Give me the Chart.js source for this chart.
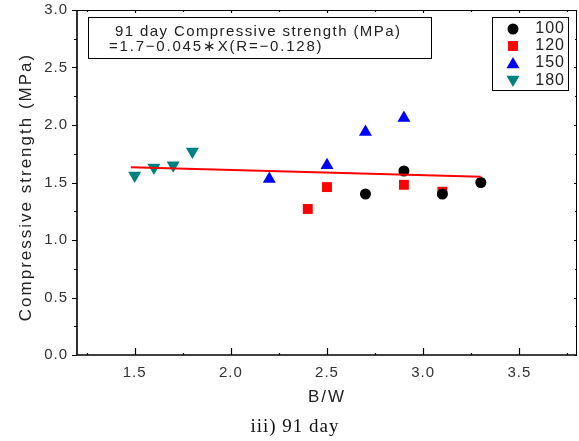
<!DOCTYPE html>
<html>
<head>
<meta charset="utf-8">
<script src="https://cdn.jsdelivr.net/npm/chart.js@4.4.1/dist/chart.umd.min.js"></script>
<style>
html,body{margin:0;padding:0;background:#fff;}
#c{display:block;}
</style>
</head>
<body>
<canvas id="c" width="579" height="441"></canvas>
<script>
// ---- data ----
const seriesLabels = ['100', '120', '150', '180'];
const x100 = [2.7, 2.9, 3.1, 3.3];
const y100 = [1.40, 1.60, 1.40, 1.50];
const x120 = [2.4, 2.5, 2.9, 3.1];
const y120 = [1.27, 1.46, 1.48, 1.42];
const x150 = [2.2, 2.5, 2.7, 2.9];
const y150 = [1.53, 1.65, 1.94, 2.06];
const x180 = [1.5, 1.6, 1.7, 1.8];
const y180 = [1.56, 1.63, 1.65, 1.77];
const fitX = [1.48, 3.3];
const fitY = [1.633, 1.551];
const xTicks = [1.5, 2.0, 2.5, 3.0, 3.5];
const yTicks = [0.0, 0.5, 1.0, 1.5, 2.0, 2.5, 3.0];
const xTitle = 'B/W';
const yTitle = 'Compressive strength (MPa)';
const noteLine1 = '91 day Compressive strength (MPa)';
const noteLine2 = '=1.7\u22120.045\u2217X(R=\u22120.128)';
const caption = 'iii) 91 day';

const pts = (xs, ys) => xs.map((x, i) => ({x: x, y: ys[i]}));

const styles = [
  {style: 'circle', color: '#000000', r: 5.5, rot: 0},
  {style: 'rect', color: '#ff0000', r: 7, rot: 0},
  {style: 'triangle', color: '#0000ff', r: 7.5, rot: 0},
  {style: 'triangle', color: '#008080', r: 7.5, rot: 180}
];
const seriesData = [pts(x100, y100), pts(x120, y120), pts(x150, y150), pts(x180, y180)];

const datasets = seriesData.map((d, i) => ({
  label: seriesLabels[i],
  data: d,
  showLine: false,
  pointStyle: styles[i].style,
  pointRadius: styles[i].r,
  pointHoverRadius: styles[i].r,
  pointRotation: styles[i].rot,
  pointBackgroundColor: styles[i].color,
  pointBorderColor: styles[i].color,
  pointBorderWidth: 0,
  order: 1
}));
datasets.push({
  label: 'fit',
  data: pts(fitX, fitY),
  showLine: true,
  borderColor: '#ff0000',
  borderWidth: 2,
  pointRadius: 0,
  fill: false,
  order: 0
});

const TICKFONT = {family: 'Liberation Sans, Arial, sans-serif', size: 15};

const zeroPad = s => { s.paddingTop = 0; s.paddingBottom = 0; s.paddingLeft = 0; s.paddingRight = 0; };

const decor = {
  id: 'decor',
  beforeDraw(chart) {
    chart.ctx.letterSpacing = '1px';
  },
  afterDraw(chart) {
    const ctx = chart.ctx;
    const xs = chart.scales.x, ys = chart.scales.y;
    const a = chart.chartArea;
    ctx.save();
    ctx.letterSpacing = '0px';
    ctx.strokeStyle = '#000';
    // frame
    ctx.lineWidth = 1;
    ctx.beginPath();
    ctx.moveTo(a.left, a.top + 0.5); ctx.lineTo(a.right, a.top + 0.5);
    ctx.moveTo(a.right - 0.5, a.top); ctx.lineTo(a.right - 0.5, a.bottom);
    ctx.stroke();
    ctx.lineWidth = 1.6;
    ctx.beginPath();
    ctx.moveTo(a.left, a.top); ctx.lineTo(a.left, a.bottom);
    ctx.lineTo(a.right, a.bottom);
    ctx.stroke();
    // ticks
    ctx.lineWidth = 1.2;
    ctx.beginPath();
    for (let v = 0; v <= 3.0001; v += 0.25) {
      const y = Math.round(ys.getPixelForValue(v)) + 0.5;
      const major = Math.abs(v / 0.5 - Math.round(v / 0.5)) < 1e-6;
      ctx.moveTo(a.left, y); ctx.lineTo(a.left - (major ? 5 : 3), y);
      ctx.moveTo(a.right, y); ctx.lineTo(a.right - (major ? 3 : 2), y);
    }
    for (let v = 1.25; v <= 3.8; v += 0.25) {
      const x = Math.round(xs.getPixelForValue(v)) + 0.5;
      const major = Math.abs(v / 0.5 - Math.round(v / 0.5)) < 1e-6;
      ctx.moveTo(x, a.bottom); ctx.lineTo(x, a.bottom - (major ? 7 : 2));
      ctx.moveTo(x, a.top); ctx.lineTo(x, a.top + (major ? 3 : 2));
    }
    ctx.stroke();

    // axis titles
    ctx.fillStyle = '#222';
    ctx.textAlign = 'center';
    ctx.textBaseline = 'middle';
    ctx.letterSpacing = '2px';
    ctx.font = '17px "Liberation Sans", Arial, sans-serif';
    ctx.fillText(xTitle, 327, 397);
    ctx.save();
    ctx.translate(26, 187);
    ctx.rotate(-Math.PI / 2);
    ctx.fillText(yTitle, 0, 0);
    ctx.restore();

    // caption
    ctx.letterSpacing = '1px';
    ctx.fillStyle = '#111';
    ctx.font = '19px "Liberation Serif", "DejaVu Serif", serif';
    ctx.fillText(caption, 295, 427);

    // note box
    ctx.fillStyle = '#fff';
    ctx.fillRect(88, 17, 343, 41);
    ctx.strokeStyle = '#000';
    ctx.lineWidth = 1;
    ctx.strokeRect(88.5, 17.5, 343, 41);
    ctx.fillStyle = '#222';
    ctx.textAlign = 'left';
    ctx.letterSpacing = '1.4px';
    ctx.font = '15px "Liberation Sans", Arial, sans-serif';
    ctx.fillText(noteLine1, 115, 32);
    ctx.letterSpacing = '1.8px';
    ctx.fillText(noteLine2, 109, 47);

    // legend box
    ctx.fillStyle = '#fff';
    ctx.fillRect(492, 17, 76, 73);
    ctx.strokeRect(492.5, 17.5, 76, 73);
    const ly = [29, 46, 63, 81];
    ctx.textAlign = 'right';
    ctx.letterSpacing = '1px';
    ctx.font = '16px "Liberation Sans", Arial, sans-serif';
    for (let i = 0; i < 4; i++) {
      ctx.fillStyle = styles[i].color;
      ctx.strokeStyle = styles[i].color;
      Chart.helpers.drawPoint(ctx, {pointStyle: styles[i].style, radius: styles[i].r, rotation: styles[i].rot, borderWidth: 0}, 513, ly[i] + (styles[i].style === 'triangle' ? (styles[i].rot ? -1.5 : 1.5) : 0));
      ctx.fillStyle = '#222';
      ctx.fillText(seriesLabels[i], 565, ly[i]);
    }
    ctx.restore();
  }
};

new Chart(document.getElementById('c'), {
  type: 'scatter',
  data: {datasets: datasets},
  options: {
    responsive: false,
    animation: false,
    devicePixelRatio: 1,
    layout: {autoPadding: false, padding: {top: 10, right: 2, left: 0, bottom: 0}},
    plugins: {legend: {display: false}, tooltip: {enabled: false}, title: {display: false}},
    scales: {
      x: {
        type: 'linear', min: 1.2, max: 3.8,
        grid: {display: false, drawTicks: false},
        border: {display: false},
        afterBuildTicks: s => { s.ticks = xTicks.map(v => ({value: v})); },
        afterFit: s => { s.height = 86; zeroPad(s); },
        ticks: {font: TICKFONT, color: '#333', padding: 9, maxRotation: 0, callback: v => Number(v).toFixed(1)}
      },
      y: {
        type: 'linear', min: 0, max: 3.0,
        grid: {display: false, drawTicks: false},
        border: {display: false},
        afterBuildTicks: s => { s.ticks = yTicks.map(v => ({value: v})); },
        afterFit: s => { s.width = 77; zeroPad(s); },
        ticks: {font: TICKFONT, color: '#333', padding: 9, callback: v => Number(v).toFixed(1)}
      }
    }
  },
  plugins: [decor]
});
</script>
</body>
</html>
